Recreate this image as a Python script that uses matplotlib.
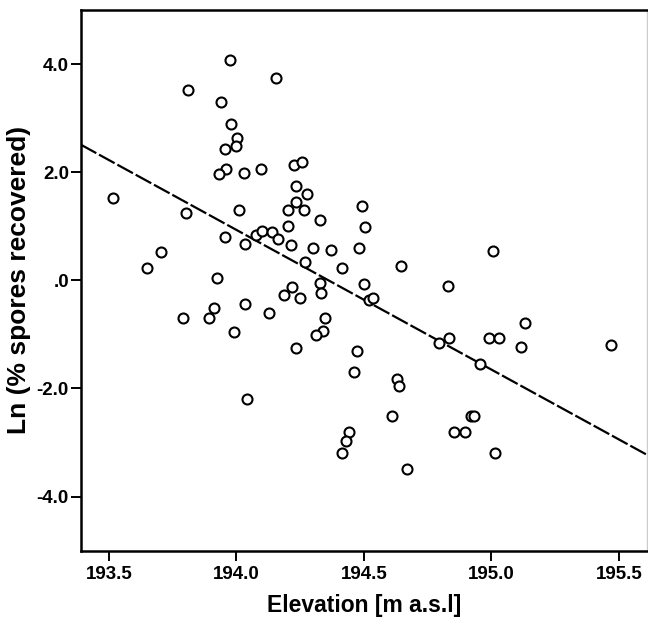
import numpy as np
import matplotlib
matplotlib.use("Agg")
import matplotlib.pyplot as plt

elevation = [
    193.977, 194.154, 193.810, 193.940, 193.979, 194.004, 193.997, 193.956, 193.958, 193.931,
    194.032, 194.095, 194.226, 194.259, 193.515, 194.235, 194.277, 193.801, 194.010, 194.234,
    194.204, 194.266, 194.492, 194.330, 194.504, 194.204, 193.954, 194.034, 194.078, 194.100,
    194.140, 194.162, 194.213, 194.302, 194.372, 194.482, 193.704, 193.651, 194.269, 194.416,
    193.924, 194.218, 194.328, 194.502, 195.005, 194.645, 194.829, 194.186, 194.250, 194.333,
    194.520, 194.537, 194.036, 193.911, 193.893, 193.791, 194.127, 194.346, 193.992, 194.339,
    194.311, 194.235, 194.474, 194.460, 194.043, 194.441, 194.431, 194.415, 195.130, 194.832,
    194.794, 194.991, 195.028, 195.116, 195.467, 194.956, 194.630, 194.638, 194.609, 194.919,
    194.932, 194.855, 194.898, 195.014, 194.668,
]
ln_spores = [
    4.07, 3.75, 3.52, 3.29, 2.90, 2.64, 2.49, 2.43, 2.06, 1.97,
    1.99, 2.06, 2.13, 2.18, 1.52, 1.74, 1.59, 1.24, 1.30, 1.45,
    1.30, 1.31, 1.38, 1.12, 0.99, 1.00, 0.81, 0.68, 0.84, 0.91,
    0.89, 0.76, 0.66, 0.60, 0.57, 0.60, 0.52, 0.22, 0.34, 0.23,
    0.04, -0.13, -0.04, -0.07, 0.54, 0.26, -0.11, -0.28, -0.32, -0.23,
    -0.36, -0.32, -0.44, -0.52, -0.69, -0.69, -0.61, -0.69, -0.96, -0.93,
    -1.01, -1.26, -1.30, -1.70, -2.19, -2.80, -2.98, -3.20, -0.79, -1.07,
    -1.15, -1.07, -1.07, -1.23, -1.20, -1.55, -1.82, -1.95, -2.51, -2.51,
    -2.51, -2.80, -2.80, -3.20, -3.49,
]
x_ticks = [193.5, 194.0, 194.5, 195.0, 195.5]
x_tick_labels = ["193.5", "194.0", "194.5", "195.0", "195.5"]
y_ticks = [4.0, 2.0, 0.0, -2.0, -4.0]
y_tick_labels = ["4.0", "2.0", ".0", "-2.0", "-4.0"]

plt.rcParams['font.family'] = ['Liberation Sans', 'DejaVu Sans']

fig = plt.figure(figsize=(6.48, 6.18), dpi=100)
ax = fig.add_axes([80.7 / 648, 1 - 550.7 / 618, (647 - 80.7) / 648, (550.7 - 10) / 618])

x = np.array(elevation)
y = np.array(ln_spores)
ax.plot(x, y, linestyle='none', marker='o', markersize=7.2, markerfacecolor='white',
        markeredgecolor='black', markeredgewidth=1.5, zorder=3)

xlim = (193.39, 195.61)
slope, intercept = np.polyfit(x, y, 1)
xl = np.array(xlim)
ax.plot(xl, intercept + slope * xl, color='black', linewidth=1.6,
        linestyle=(0, (8, 1.4)), zorder=2)

ax.set_xlim(*xlim)
ax.set_ylim(-5, 5)
ax.set_xticks(x_ticks)
ax.set_xticklabels(x_tick_labels)
ax.set_yticks(y_ticks)
ax.set_yticklabels(y_tick_labels)

for lab in ax.get_xticklabels() + ax.get_yticklabels():
    lab.set_fontweight('bold')
    lab.set_fontsize(13.5)

ax.tick_params(axis='both', direction='out', length=7, width=1.4, color='black')
ax.tick_params(axis='x', pad=4)
ax.tick_params(axis='y', pad=1.5)

for side in ['left', 'bottom', 'top']:
    ax.spines[side].set_linewidth(1.8)
    ax.spines[side].set_color('black')
ax.spines['right'].set_linewidth(1.0)
ax.spines['right'].set_color('#cccccc')

ax.set_xlabel('Elevation [m a.s.l]', fontsize=16.5, fontweight='bold', labelpad=8)
ax.set_ylabel('Ln (% spores recovered)', fontsize=19, fontweight='bold', labelpad=4)

fig.savefig('out.png', dpi=100, facecolor='white')
